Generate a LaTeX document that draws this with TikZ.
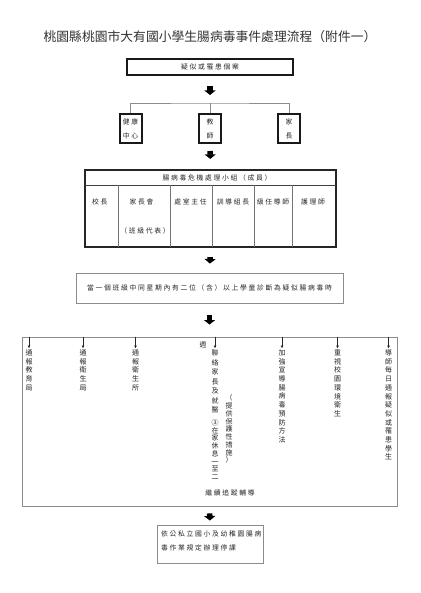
\documentclass[tikz,border=0pt]{standalone}
\usepackage{fontspec}
\newfontfamily\cjk[LetterSpace=25]{Noto Sans CJK TC}
\newfontfamily\cjkv{Noto Sans CJK TC}
\usetikzlibrary{arrows.meta,calc}
\begin{document}
\begin{tikzpicture}[x=1pt,y=-1pt,
  txt/.style={font=\cjk\fontsize{6.8}{8.7}\selectfont, text=black!85, inner sep=0pt},
  vtxt/.style={font=\cjkv\fontsize{7}{8.7}\selectfont, text=black!85, inner sep=0pt, align=center, anchor=north},
  thickbox/.style={draw=black!90, line width=2pt, inner sep=0pt},
  graybox/.style={draw=black!45, line width=0.9pt, inner sep=0pt},
  conn/.style={draw=black!45, line width=0.6pt},
  bigarrow/.style={draw=black, line width=5.5pt, -{Triangle[width=11pt,length=4.5pt]}},
  smallarrow/.style={draw=black!85, line width=0.6pt, -{Latex[length=3pt,width=3pt]}},
  tline/.style={draw=black!55, line width=0.6pt}]
\useasboundingbox (0,0) rectangle (420,593);
\fill[white] (0,0) rectangle (420,593);

% title
\node[inner sep=0pt, text=black!80, font=\cjkv\fontsize{12.8}{14}\selectfont] (title) at (210,37) {桃園縣桃園市大有國小學生腸病毒事件處理流程（附件一）};

% top case box
\node[thickbox, txt, minimum width=166pt, minimum height=16pt] (case) at (210,67) {疑似或罹患個案};
\coordinate (j1) at (210,103);

% three boxes
\node[thickbox, txt, font=\cjk\fontsize{6.8}{14}\selectfont, align=center, minimum width=22pt, minimum height=29pt] (hc) at (130.5,128.5) {健康\\中心};
\node[thickbox, txt, font=\cjk\fontsize{6.8}{14}\selectfont, align=center, minimum width=22pt, minimum height=29pt] (tc) at (210,128.5) {教\\師};
\node[thickbox, txt, font=\cjk\fontsize{6.8}{14}\selectfont, align=center, minimum width=22pt, minimum height=29pt] (pa) at (289,128.5) {家\\長};

\draw[conn] (hc.north) |- (j1) -| (pa.north);
\draw[conn] (tc.north) -- (j1);
\draw[bigarrow, shorten <=10pt, shorten >=8pt] (case.south) -- (j1);

% team table
\node[draw=black!85, line width=2.2pt, inner sep=0pt, minimum width=251pt, minimum height=77pt] (team) at (210.5,208.5) {};
\draw[black!75, line width=0.8pt] (85,185) -- (336,185);
\foreach \x in {118,170,212,254,292} \draw[tline] (\x,185) -- (\x,247);
\node[txt] (hdr) at (217,178) {腸病毒危機處理小組（成員）};
\node[txt, anchor=west] (m1) at (92,202) {校長};
\node[txt] (m2) at (141.5,202) {家長會};
\node[txt] (m2b) at (145,231) {（班級代表）};
\node[txt] (m3) at (190.5,202) {處室主任};
\node[txt] (m4) at (233,202) {訓導組長};
\node[txt] (m5) at (273,202) {級任導師};
\node[txt] (m6) at (313,202) {護理師};
\draw[bigarrow, shorten <=7pt, shorten >=10pt] (tc.south) -- (team.north);

% condition box
\node[graybox, txt, minimum width=267pt, minimum height=30pt] (cond) at (209.5,288) {當一個班級中同星期內有二位（含）以上學童診斷為疑似腸病毒時};
\draw[bigarrow, shorten <=9pt, shorten >=9pt] (team.south) -- (cond.north);

% big box
\node[graybox, minimum width=375pt, minimum height=169pt] (big) at (209.5,421.5) {};
\draw[bigarrow, shorten <=12pt, shorten >=12pt] (cond.south) -- (big.north);

\node[vtxt] (v1) at (29,349.5) {通\\報\\教\\育\\局};
\node[vtxt] (v2) at (83,349.5) {通\\報\\衛\\生\\局};
\node[vtxt] (v3) at (135.5,349.5) {通\\報\\衛\\生\\所};
\node[vtxt, font=\cjkv\fontsize{7}{9.5}\selectfont] (v4) at (215,349.5) {聯\\絡\\家\\長\\及\\就\\醫\\[3.5pt]③\\[-1.8pt]在\\[-1.8pt]家\\[-1.8pt]休\\[-1.8pt]息\\[-1.8pt]一\\[-1.8pt]至\\[-1.8pt]二};
\node[vtxt, font=\cjkv\fontsize{7}{7.75}\selectfont] (v4p) at (229,394.6) {（\\提\\供\\保\\護\\性\\措\\施\\）};
\node[txt] (wk) at (203,345) {週};
\node[txt] (follow) at (230,493) {繼續追蹤輔導};
\node[vtxt] (v5) at (282,349.5) {加\\強\\宣\\導\\腸\\病\\毒\\預\\防\\方\\法};
\node[vtxt] (v6) at (337.5,349.5) {重\\視\\校\\園\\環\\境\\衛\\生};
\node[vtxt] (v7) at (388.5,349.5) {導\\師\\每\\日\\通\\報\\疑\\似\\或\\罹\\患\\學\\生};

\foreach \n in {v1,v2,v3,v4,v5,v6,v7}
  \draw[smallarrow, shorten >=1pt] (\n.north |- big.north) -- (\n.north);

% final box
\node[graybox, minimum width=106pt, minimum height=38pt] (final) at (210,544) {};
\node[txt, font=\cjk\fontsize{6.8}{14}\selectfont, align=left, anchor=west] (finaltxt) at (161,541) {依公私立國小及幼稚園腸病\\毒作業規定辦理停課};
\draw[bigarrow, shorten <=7pt, shorten >=4pt] (big.south) -- (final.north);
\end{tikzpicture}
\end{document}
